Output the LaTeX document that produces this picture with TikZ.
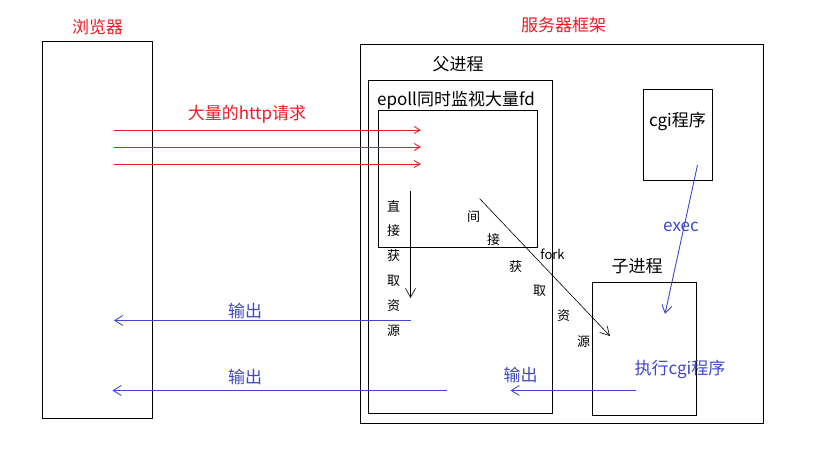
\documentclass[tikz,border=0pt]{standalone}
\usepackage{fontspec}
\setmainfont{Noto Sans CJK SC}
\usetikzlibrary{arrows.meta}
\definecolor{pred}{RGB}{237,28,36}
\definecolor{pblue}{RGB}{63,72,204}
\begin{document}
\begin{tikzpicture}[x=1pt,y=-1pt,
 box/.style={draw,line width=0.9pt,inner sep=0,outer sep=0,anchor=north west},
 lbl/.style={inner sep=0,font=\fontsize{17pt}{20pt}\selectfont},
 sm/.style={inner sep=0,font=\fontsize{13pt}{15pt}\selectfont},
 req/.style={draw=pred,line width=0.9pt,-{Straight Barb[length=6pt,width=7pt]}},
 outarr/.style={draw=pblue,line width=0.9pt,-{Straight Barb[length=8pt,width=10pt]}},
 blk/.style={draw=black,line width=0.6pt,-{Straight Barb[length=9pt,width=10pt]}}]
\useasboundingbox[fill=white] (0,0) rectangle (836,457);
% boxes
\node[box,minimum width=110pt,minimum height=377pt] (browser) at (42,41) {};
\node[box,minimum width=403pt,minimum height=379pt] (server) at (360,44) {};
\node[box,minimum width=184pt,minimum height=333pt] (parent) at (368,80) {};
\node[box,minimum width=159pt,minimum height=137pt] (epoll) at (378,110) {};
\node[box,minimum width=69pt,minimum height=91pt] (cgi) at (643,89) {};
\node[box,minimum width=104pt,minimum height=133pt] (child) at (592,282) {};
% labels
\node[lbl,text=pred] (tbrowser) at (97.5,27.5) {浏览器};
\node[lbl,text=pred] (tserver) at (563.5,25.5) {服务器框架};
\node[lbl] (tparent) at (458,64) {父进程};
\node[lbl] (tepoll) at (456,100) {epoll同时监视大量fd};
\node[lbl] (tcgi) at (677.5,121) {cgi程序};
\node[lbl] (tchild) at (637,266) {子进程};
\node[lbl,text=pred] (treq) at (247,114) {大量的http请求};
\node[lbl,text=pblue] (texec) at (681,227) {exec};
\node[lbl,text=pblue] (trun) at (680,369) {执行cgi程序};
\node[lbl,text=pblue] (tout1) at (245,311) {输出};
\node[lbl,text=pblue] (tout2) at (245,377) {输出};
\node[lbl,text=pblue] (tout3) at (520.5,375) {输出};
% direct text
\node[sm] (d1) at (393.5,206) {直};
\node[sm] (d2) at (393.5,231) {接};
\node[sm] (d3) at (393.5,256) {获};
\node[sm] (d4) at (393.5,281) {取};
\node[sm] (d5) at (393.5,306) {资};
\node[sm] (d6) at (393.5,331) {源};
% indirect text
\node[sm] (i1) at (473.5,217) {间};
\node[sm] (i2) at (493.5,240) {接};
\node[sm] (i3) at (515.5,267) {获};
\node[sm] (i4) at (539.5,291) {取};
\node[sm] (i5) at (563.5,316) {资};
\node[sm] (i6) at (583.5,342) {源};
\node[sm] (tfork) at (552.5,254) {fork};
% connector end points
\coordinate (r1s) at (114,130); \coordinate (r1e) at (421,130);
\coordinate (r2s) at (114,147); \coordinate (r2e) at (421,147);
\coordinate (r3s) at (114,164); \coordinate (r3e) at (421,164);
\coordinate (ds) at (410.5,191); \coordinate (de) at (410.5,298);
\coordinate (fs) at (479.5,198.5); \coordinate (fe) at (610,336);
\coordinate (es) at (697.5,165); \coordinate (ee) at (665,314);
\coordinate (o1s) at (411,320.5); \coordinate (o1e) at (114,320.5);
\coordinate (o2s) at (447,390.5); \coordinate (o2e) at (112.5,390.5);
\coordinate (o3s) at (636,390.5); \coordinate (o3e) at (510.5,390.5);
% connectors
\draw[req] (r1s) -- (r1e);
\draw[req] (r2s) -- (r2e);
\draw[req] (r3s) -- (r3e);
\draw[blk] (ds) -- (de);
\draw[blk] (fs) -- (fe);
\draw[outarr] (es) -- (ee);
\draw[outarr] (o1s) -- (o1e);
\draw[outarr] (o2s) -- (o2e);
\draw[outarr] (o3s) -- (o3e);
\end{tikzpicture}
\end{document}
